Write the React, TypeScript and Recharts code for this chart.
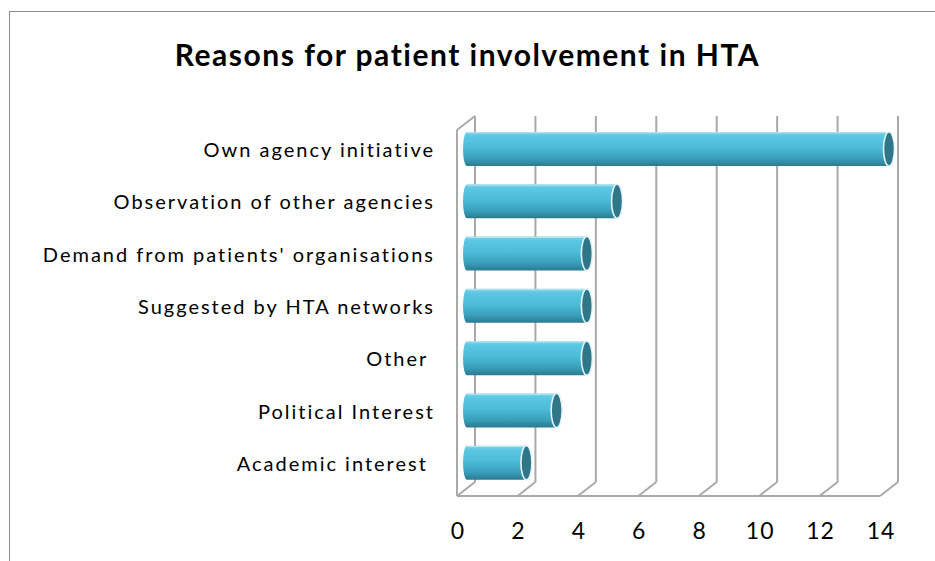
import React from 'react';
import { BarChart, Bar, XAxis, YAxis, CartesianGrid, ReferenceArea } from 'recharts';

const categories = [
  'Own agency initiative',
  'Observation of other agencies',
  "Demand from patients' organisations",
  'Suggested by HTA networks',
  'Other ',
  'Political Interest',
  'Academic interest ',
];
const values = [14, 5, 4, 4, 4, 3, 2];
const xTicks = [0, 2, 4, 6, 8, 10, 12, 14];
const title = 'Reasons for patient involvement in HTA';

const data = categories.map((name, i) => ({ name, value: values[i] }));

const DX = 9;
const DY = 7;
const LINE = '#a9a9a9';
const FONT = 'Lato, "Open Sans", sans-serif';

const Cylinder = (props: any) => {
  const { x, y, width, height } = props;
  if (width == null || height == null) return null;
  const h = height;
  const rl = 4;
  const rc = 5.5;
  const left = x - 3;
  const right = x + width;
  const d = `M ${right} ${y} L ${left + rl} ${y} A ${rl} ${h / 2} 0 0 0 ${left + rl} ${y + h} L ${right} ${y + h} Z`;
  return (
    <g>
      <path d={d} fill="url(#cylGrad)" />
      <line x1={left + rl} y1={y + 0.8} x2={right} y2={y + 0.8} stroke="#bfe6f1" strokeWidth={1} />
      <ellipse cx={right} cy={y + h / 2} rx={rc} ry={h / 2} fill="#2e7688" stroke="#e3f3f7" strokeWidth={1.6} />
    </g>
  );
};

const GridLine = (props: any) => {
  const { x1, y1, y2 } = props;
  const top = Math.min(y1, y2);
  const bottom = Math.max(y1, y2);
  return (
    <g key={props.key}>
      <line x1={x1 + DX} y1={top - DY} x2={x1 + DX} y2={bottom - DY} stroke={LINE} strokeWidth={2} />
      <line x1={x1 - DX} y1={bottom + DY} x2={x1 + DX} y2={bottom - DY} stroke={LINE} strokeWidth={2} />
    </g>
  );
};

const Frame = (props: any) => {
  const { x, y, width, height } = props;
  const bottom = y + height;
  return (
    <g>
      <line x1={x - DX} y1={y + DY} x2={x - DX} y2={bottom + DY} stroke={LINE} strokeWidth={2} />
      <line x1={x - DX} y1={y + DY} x2={x + DX} y2={y - DY} stroke={LINE} strokeWidth={2} />
      <line x1={x - DX} y1={bottom + DY} x2={x + width - DX} y2={bottom + DY} stroke={LINE} strokeWidth={2} />
    </g>
  );
};

const YTick = (props: any) => {
  const { x, y, payload } = props;
  return (
    <text
      x={x}
      y={y}
      textAnchor="end"
      dominantBaseline="central"
      fontFamily={FONT}
      fontSize={20}
      letterSpacing={2}
      fill="#000"
      style={{ whiteSpace: 'pre' }}
      xmlSpace="preserve"
    >
      {payload.value}
    </text>
  );
};

const XTick = (props: any) => {
  const { x, y, payload } = props;
  return (
    <text
      x={x - DX + 1}
      y={y}
      textAnchor="middle"
      dominantBaseline="central"
      fontFamily={FONT}
      fontSize={23}
      letterSpacing={1}
      fill="#000"
    >
      {payload.value}
    </text>
  );
};

export default function App() {
  return (
    <div style={{ position: 'absolute', left: 0, top: 0, width: 935, height: 561, background: '#fff', overflow: 'hidden' }}>
      <div
        style={{
          position: 'absolute',
          left: 9,
          top: 11,
          width: 940,
          height: 560,
          borderLeft: '1.5px solid #8c8c8c',
          borderTop: '1.5px solid #8c8c8c',
        }}
      />
      <div
        style={{
          position: 'absolute',
          left: 0,
          top: 36,
          width: 935,
          textAlign: 'center',
          fontFamily: FONT,
          fontWeight: 700,
          fontSize: 30,
          letterSpacing: 1.5,
          color: '#000',
        }}
      >
        {title}
      </div>
      <div style={{ position: 'absolute', left: 0, top: 0 }}>
        <BarChart
          width={935}
          height={561}
          data={data}
          layout="vertical"
          margin={{ top: 123, right: 46, bottom: 22, left: 266 }}
          barSize={34}
        >
          <defs>
            <linearGradient id="cylGrad" x1="0" y1="0" x2="0" y2="1">
              <stop offset="0" stopColor="#7fd4e9" />
              <stop offset="0.12" stopColor="#5cc7e2" />
              <stop offset="0.45" stopColor="#4cbcd9" />
              <stop offset="0.78" stopColor="#3a9fba" />
              <stop offset="1" stopColor="#2a7a90" />
            </linearGradient>
          </defs>
          <CartesianGrid horizontal={false} vertical={GridLine as any} stroke={LINE} />
          <ReferenceArea x1={0} x2={14} shape={Frame as any} fill="none" />
          <XAxis
            type="number"
            domain={[0, 14]}
            ticks={xTicks}
            axisLine={false}
            tickLine={false}
            height={50}
            tick={XTick}
            tickMargin={35}
            interval={0}
          />
          <YAxis
            type="category"
            dataKey="name"
            width={200}
            axisLine={false}
            tickLine={false}
            tick={YTick}
            tickMargin={25}
            interval={0}
          />
          <Bar dataKey="value" shape={Cylinder} isAnimationActive={false} />
        </BarChart>
      </div>
    </div>
  );
}
